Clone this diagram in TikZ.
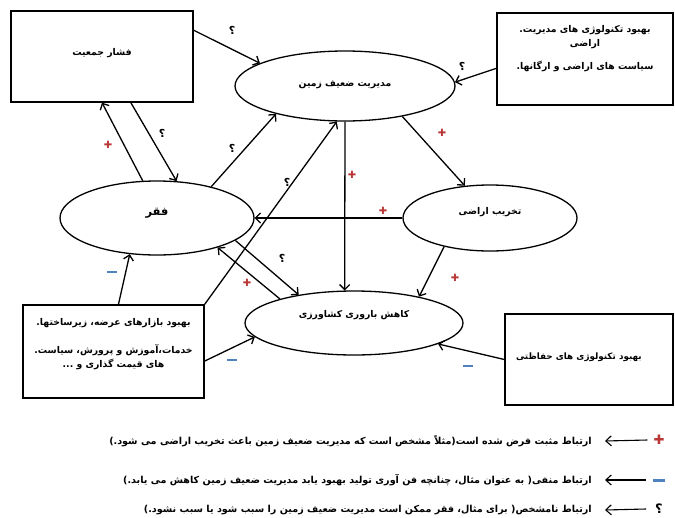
\documentclass[tikz,border=0pt]{standalone}
\usepackage{fontspec}
\usetikzlibrary{shapes.geometric,arrows.meta}
\newfontfamily\fa[Script=Arabic]{DejaVu Sans}
\newfontfamily\symf{DejaVu Sans}
\TeXXeTstate=1
\definecolor{plusred}{RGB}{185,55,55}
\definecolor{minusblue}{RGB}{79,129,189}
\begin{document}
\begin{tikzpicture}[x=1pt,y=-1pt,
  every node/.style={font=\fa\bfseries\fontsize{9.3}{11}\selectfont, inner sep=0pt},
  box/.style={draw, line width=1.3pt, rectangle, align=center},
  oval/.style={draw, line width=1.3pt, ellipse},
  arr/.style={line width=1.3pt, -{Straight Barb[length=5pt,width=10pt]}},
  legarr/.style={line width=1.1pt, -{Straight Barb[length=5.5pt,width=10pt]}},
  qmark/.style={font=\fa\bfseries\fontsize{11}{11}\selectfont},
  plusmark/.style={text=plusred, font=\symf\fontsize{10}{10}\selectfont},
  minusmark/.style={fill=minusblue, minimum width=10pt, minimum height=2.8pt},
  legtext/.style={anchor=east, font=\fa\bfseries\fontsize{9.6}{11}\selectfont}
]
\useasboundingbox (0,0) rectangle (675,517);

% boxes
\node[box, minimum width=182pt, minimum height=91pt] (pop) at (102,56.5)
  {\raisebox{1pt}[0pt][0pt]{\beginR فشار جمعیت\endR}};
\node[box, minimum width=176pt, minimum height=92pt] (tech) at (585,59)
  {\beginR بهبود تکنولوژی های مدیریت.\endR\\[3pt]\beginR اراضی\endR\\[12pt]\beginR سیاست های اراضی و ارگانها.\endR\\[12pt]};
\node[box, minimum width=181pt, minimum height=93pt] (ext) at (113.5,351.5)
  {\beginR بهبود بازارهای عرضه، زیرساختها.\endR\\[15pt]\beginR خدمات،آموزش و پرورش، سیاست.\endR\\[3pt]\beginR های قیمت گذاری و ...\endR\\[6pt]};
\node[box, minimum width=168pt, minimum height=91pt, text width=146pt, align=left] (cons) at (589,359.5)
  {\fontsize{8.8}{10}\selectfont\raisebox{0pt}[0pt][0pt]{\beginR بهبود تکنولوژی های حفاظتی\endR}};

% ellipses
\node[oval, minimum width=220pt, minimum height=70pt] (mgmt) at (345,86)
  {\raisebox{0pt}[0pt][0pt]{\beginR مدیریت ضعیف زمین\endR}};
\node[oval, minimum width=174pt, minimum height=66pt] (deg) at (490,218)
  {\raisebox{4pt}[0pt][0pt]{\beginR تخریب اراضی\endR}};
\node[oval, minimum width=194pt, minimum height=74pt] (pov) at (157,218)
  {\fontsize{11.5}{12}\selectfont\raisebox{3pt}[0pt][0pt]{\beginR فقر\endR}};
\node[oval, minimum width=218pt, minimum height=64pt] (yield) at (354,323)
  {\raisebox{6pt}[0pt][0pt]{\beginR کاهش باروری کشاورزی\endR}};

% connectors
\draw[arr] (pop.16) -- (mgmt.165);
\draw[arr] (tech.186) -- (mgmt.2);
\draw[arr] (mgmt.-28) -- (deg.128);
\draw[arr] (mgmt.south) -- (yield.106);
\draw[arr] (deg.west) -- (pov.east);
\draw[arr] (deg.212) -- (yield.22);
\draw[arr] (pov.111) -- (pop.south);
\draw[arr] (pop.-58.4) -- (pov.62);
\draw[arr] (pov.30) -- (mgmt.202);
\draw[arr] (ext.north east) -- (mgmt.257);
\draw[arr] (pov.-16) -- (yield.153);
\draw[arr] (yield.162) -- (pov.-26);
\draw[arr] (ext.84.5) -- (pov.233);
\draw[arr] (ext.-6.6) -- (yield.188);
\draw[arr] (cons.west) -- (yield.-14);

% labels
\node[qmark] (q1) at (232,30) {؟};
\node[qmark] (q2) at (462,66) {؟};
\node[qmark] (q3) at (162,133) {؟};
\node[qmark] (q4) at (232,148) {؟};
\node[qmark] (q5) at (287,182) {؟};
\node[qmark] (q6) at (282,258) {؟};
\node[plusmark] (p1) at (442,133) {✚};
\node[plusmark] (p2) at (352,175) {✚};
\node[plusmark] (p3) at (383,211) {✚};
\node[plusmark] (p4) at (455,278) {✚};
\node[plusmark] (p5) at (108,145) {✚};
\node[plusmark] (p6) at (247,283) {✚};
\node[minusmark] (m1) at (112,272) {};
\node[minusmark] (m2) at (232,360) {};
\node[minusmark] (m3) at (468,366) {};

% legend
\node[plusmark, font=\symf\fontsize{13}{13}\selectfont] (ls1) at (659,440) {✚};
\node[minusmark, minimum width=12pt, minimum height=3pt] (ls2) at (659,480) {};
\node[qmark, font=\fa\bfseries\fontsize{13}{13}\selectfont] (ls3) at (659,509) {؟};
\node[legtext] (lt1) at (592,441) {\beginR ارتباط مثبت فرض شده است(مثلاً مشخص است که مدیریت ضعیف زمین باعث تخریب اراضی می شود.)\endR};
\node[legtext] (lt2) at (592,480) {\beginR ارتباط منفی( به عنوان مثال، چنانچه فن آوری تولید بهبود یابد مدیریت ضعیف زمین کاهش می یابد.)\endR};
\node[legtext] (lt3) at (592,510) {\beginR ارتباط نامشخص( برای مثال، فقر ممکن است مدیریت ضعیف زمین را سبب شود یا سبب نشود.)\endR};
\draw[legarr] ([xshift=-6pt]ls1.west) -- ([xshift=13pt]lt1.east);
\draw[legarr] ([xshift=-7pt]ls2.west) -- ([xshift=13pt]lt2.east);
\draw[legarr] ([xshift=-9pt]ls3.west) -- ([xshift=13pt]lt3.east);
\end{tikzpicture}
\end{document}
